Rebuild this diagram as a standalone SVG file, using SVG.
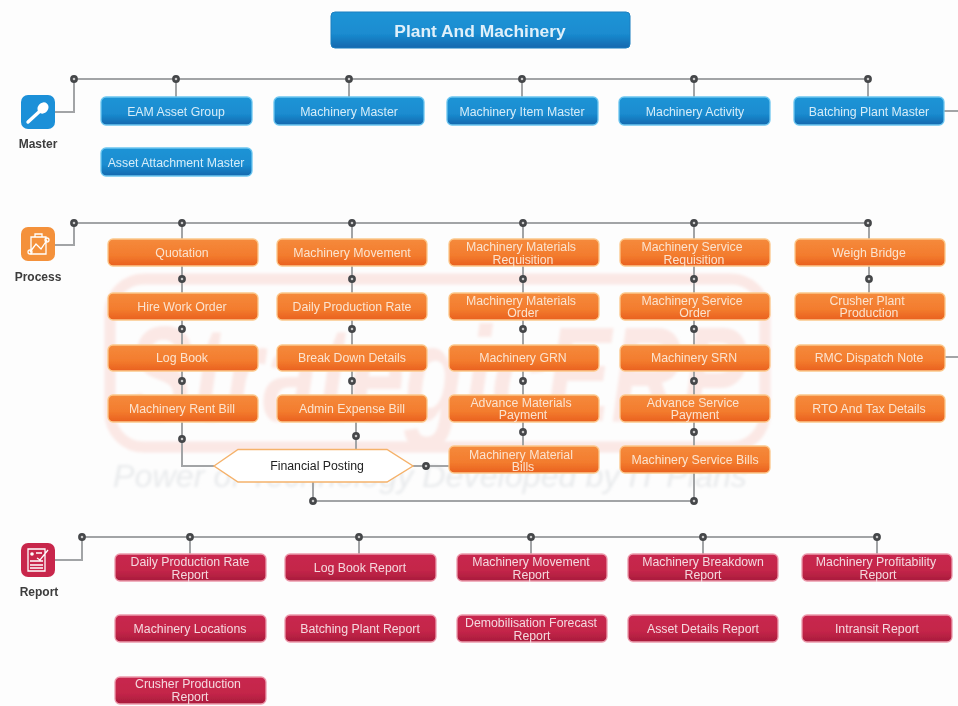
<svg xmlns="http://www.w3.org/2000/svg" width="958" height="706" viewBox="0 0 958 706">
<style>
.b{stroke-width:1.3}
.blue{fill:url(#gb);stroke:#6cc6f0}
.or{fill:url(#go);stroke:#fcc78a}
.red{fill:url(#gr);stroke:#ec9aac}
.t{font:12.3px "Liberation Sans",Arial,sans-serif;fill:#fbe3cf;text-anchor:middle}
.tb{fill:#d6ecf8}
.tr{fill:#f4d8de}
.lab{font:bold 12px "Liberation Sans",Arial,sans-serif;fill:#3c3c3c;text-anchor:middle}
.c{fill:none;stroke:#a2a4a6;stroke-width:2}
.d{fill:#c8c8c8;stroke:#45474a;stroke-width:2.6}
.ic{fill:none;stroke:#fff;stroke-width:1.3}
</style>
<defs>
<linearGradient id="gb" x1="0" y1="0" x2="0" y2="1"><stop offset="0" stop-color="#1c94d6"/><stop offset=".6" stop-color="#1a8cd0"/><stop offset="1" stop-color="#1268ae"/></linearGradient>
<linearGradient id="go" x1="0" y1="0" x2="0" y2="1"><stop offset="0" stop-color="#f58a3c"/><stop offset=".6" stop-color="#f37c2e"/><stop offset="1" stop-color="#e9601f"/></linearGradient>
<linearGradient id="gr" x1="0" y1="0" x2="0" y2="1"><stop offset="0" stop-color="#c8284f"/><stop offset=".6" stop-color="#c42549"/><stop offset="1" stop-color="#a81c3c"/></linearGradient>
<filter id="s" x="-2%" y="-2%" width="104%" height="104%"><feGaussianBlur stdDeviation="0.6"/></filter>
<filter id="w" x="-5%" y="-5%" width="110%" height="110%"><feGaussianBlur stdDeviation="1.4"/></filter>
</defs>
<rect width="958" height="706" fill="#fdfdfd"/>
<g id="watermark" filter="url(#w)">
<rect x="110" y="279" width="655" height="168" rx="34" fill="none" stroke="#fbe8e5" stroke-width="11"/>
<text x="437" y="421" text-anchor="middle" font-family="'Liberation Sans',Arial,sans-serif" font-weight="bold" font-style="italic" font-size="136" textLength="620" lengthAdjust="spacingAndGlyphs" fill="#fbe8e5">StrategicERP</text>
<text x="430" y="487" text-anchor="middle" font-family="'Liberation Sans',Arial,sans-serif" font-style="italic" font-size="31" textLength="634" lengthAdjust="spacingAndGlyphs" fill="#e8eaec">Power of Technology Developed by IT Plans</text>
</g>
<g filter="url(#s)">
<g id="connectors">
<path class="c" d="M55 112H74V79H868M176 79V97M349 79V97M522 79V97M694 79V97M868 79V97M944 111H958"/>
<path class="c" d="M55 245H74V223H868M182 223V395M352 223V395M523 223V446M694 223V446M869 223V293M945 357H958"/>
<path class="c" d="M182 422V466H214M356 422V449M413 466H449M313 482V501H694M694 473V501"/>
<path class="c" d="M55 560H82V537H877M190 537V554M359 537V554M531 537V554M703 537V554M877 537V554"/>
</g>
<g id="title"><rect x="331" y="12" width="299" height="36" rx="4" fill="url(#gb)" stroke="#1a7fc0"/><text x="480" y="37" text-anchor="middle" font-family="'Liberation Sans',Arial,sans-serif" font-weight="bold" font-size="17.400" fill="#e0f0fa">Plant And Machinery</text></g>

<g id="master">
<rect x="21" y="95" width="34" height="34" rx="7" fill="#1c90d8"/>
<ellipse cx="43" cy="108" rx="5.200" ry="6" transform="rotate(40 43 108)" fill="#fff"/><path d="M40 111L28 122" stroke="#fff" stroke-width="3.400" fill="none" stroke-linecap="round"/>
<text class="lab" x="38" y="148">Master</text></g>
<g id="process">
<rect x="21" y="227" width="34" height="34" rx="7" fill="#f4913a"/>
<path class="ic" d="M31 237H46V254H31ZM35 237V234H42V237M30 252L36 244L41 249L47 240"/>
<circle cx="30" cy="252" r="2" class="ic"/><circle cx="47" cy="240" r="2" class="ic"/>
<text class="lab" x="38" y="281">Process</text></g>
<g id="report">
<rect x="21" y="543" width="34" height="34" rx="7" fill="#c8284c"/>
<path class="ic" d="M28 549H45V571H28ZM30 561H43M30 565H43M30 568H43M36 553H42M37 558L40 560L48 550"/>
<circle cx="32" cy="554" r="1.800" fill="#fff"/>
<text class="lab" x="39" y="596">Report</text></g>

<g id="eam-asset-group"><rect class="b blue" x="101" y="97" width="151" height="28" rx="5"/><text class="t tb" x="176" y="115.500">EAM Asset Group</text></g>
<g id="machinery-master"><rect class="b blue" x="274" y="97" width="150" height="28" rx="5"/><text class="t tb" x="349" y="115.500">Machinery Master</text></g>
<g id="machinery-item-master"><rect class="b blue" x="447" y="97" width="151" height="28" rx="5"/><text class="t tb" x="522" y="115.500">Machinery Item Master</text></g>
<g id="machinery-activity"><rect class="b blue" x="619" y="97" width="151" height="28" rx="5"/><text class="t tb" x="695" y="115.500">Machinery Activity</text></g>
<g id="batching-plant-master"><rect class="b blue" x="794" y="97" width="150" height="28" rx="5"/><text class="t tb" x="869" y="115.500">Batching Plant Master</text></g>
<g id="asset-attachment-master"><rect class="b blue" x="101" y="148" width="151" height="28" rx="5"/><text class="t tb" x="176" y="166.500">Asset Attachment Master</text></g>

<g id="quotation"><rect class="b or" x="108" y="239" width="150" height="27" rx="5"/><text class="t" x="182" y="257">Quotation</text></g>
<g id="hire-work-order"><rect class="b or" x="108" y="293" width="150" height="27" rx="5"/><text class="t" x="182" y="311">Hire Work Order</text></g>
<g id="log-book"><rect class="b or" x="108" y="345" width="150" height="26" rx="5"/><text class="t" x="182" y="362">Log Book</text></g>
<g id="machinery-rent-bill"><rect class="b or" x="108" y="395" width="150" height="27" rx="5"/><text class="t" x="182" y="413">Machinery Rent Bill</text></g>
<g id="machinery-movement"><rect class="b or" x="277" y="239" width="150" height="27" rx="5"/><text class="t" x="352" y="257">Machinery Movement</text></g>
<g id="daily-production-rate"><rect class="b or" x="277" y="293" width="150" height="27" rx="5"/><text class="t" x="352" y="311">Daily Production Rate</text></g>
<g id="break-down-details"><rect class="b or" x="277" y="345" width="150" height="26" rx="5"/><text class="t" x="352" y="362">Break Down Details</text></g>
<g id="admin-expense-bill"><rect class="b or" x="277" y="395" width="150" height="27" rx="5"/><text class="t" x="352" y="413">Admin Expense Bill</text></g>
<g id="mm-requisition"><rect class="b or" x="449" y="239" width="150" height="27" rx="5"/><text class="t" x="521" y="251">Machinery Materials</text><text class="t" x="523" y="263.500">Requisition</text></g>
<g id="mm-order"><rect class="b or" x="449" y="293" width="150" height="27" rx="5"/><text class="t" x="521" y="304.500">Machinery Materials</text><text class="t" x="523" y="317">Order</text></g>
<g id="machinery-grn"><rect class="b or" x="449" y="345" width="150" height="26" rx="5"/><text class="t" x="523" y="362">Machinery GRN</text></g>
<g id="advance-materials-payment"><rect class="b or" x="449" y="395" width="150" height="27" rx="5"/><text class="t" x="521" y="406.500">Advance Materials</text><text class="t" x="523" y="419">Payment</text></g>
<g id="machinery-material-bills"><rect class="b or" x="449" y="446" width="150" height="27" rx="5"/><text class="t" x="521" y="458.500">Machinery Material</text><text class="t" x="523" y="471">Bills</text></g>
<g id="ms-requisition"><rect class="b or" x="620" y="239" width="150" height="27" rx="5"/><text class="t" x="692" y="251">Machinery Service</text><text class="t" x="694" y="263.500">Requisition</text></g>
<g id="ms-order"><rect class="b or" x="620" y="293" width="150" height="27" rx="5"/><text class="t" x="692" y="304.500">Machinery Service</text><text class="t" x="695" y="317">Order</text></g>
<g id="machinery-srn"><rect class="b or" x="620" y="345" width="150" height="26" rx="5"/><text class="t" x="694" y="362">Machinery SRN</text></g>
<g id="advance-service-payment"><rect class="b or" x="620" y="395" width="150" height="27" rx="5"/><text class="t" x="693" y="406.500">Advance Service</text><text class="t" x="695" y="419">Payment</text></g>
<g id="machinery-service-bills"><rect class="b or" x="620" y="446" width="150" height="27" rx="5"/><text class="t" x="695" y="464">Machinery Service Bills</text></g>
<g id="weigh-bridge"><rect class="b or" x="795" y="239" width="150" height="27" rx="5"/><text class="t" x="869" y="257">Weigh Bridge</text></g>
<g id="crusher-plant-production"><rect class="b or" x="795" y="293" width="150" height="27" rx="5"/><text class="t" x="867" y="304.500">Crusher Plant</text><text class="t" x="869" y="317">Production</text></g>
<g id="rmc-dispatch-note"><rect class="b or" x="795" y="345" width="150" height="26" rx="5"/><text class="t" x="869" y="362">RMC Dispatch Note</text></g>
<g id="rto-and-tax-details"><rect class="b or" x="795" y="395" width="150" height="27" rx="5"/><text class="t" x="869" y="413">RTO And Tax Details</text></g>

<g id="financial-posting"><polygon points="214,466 238,449.500 387,449.500 413,466 387,482 238,482" fill="#fff" stroke="#f5b26b" stroke-width="1.400"/><text x="317" y="470" text-anchor="middle" font-family="'Liberation Sans',Arial,sans-serif" font-size="12.300" fill="#222">Financial Posting</text></g>

<g id="daily-production-rate-report"><rect class="b red" x="115" y="554" width="151" height="27" rx="5"/><text class="t tr" x="190" y="566">Daily Production Rate</text><text class="t tr" x="190" y="578.500">Report</text></g>
<g id="log-book-report"><rect class="b red" x="285" y="554" width="151" height="27" rx="5"/><text class="t tr" x="360" y="572">Log Book Report</text></g>
<g id="machinery-movement-report"><rect class="b red" x="457" y="554" width="150" height="27" rx="5"/><text class="t tr" x="531" y="566">Machinery Movement</text><text class="t tr" x="531" y="578.500">Report</text></g>
<g id="machinery-breakdown-report"><rect class="b red" x="628" y="554" width="150" height="27" rx="5"/><text class="t tr" x="703" y="566">Machinery Breakdown</text><text class="t tr" x="703" y="578.500">Report</text></g>
<g id="machinery-profitability-report"><rect class="b red" x="802" y="554" width="150" height="27" rx="5"/><text class="t tr" x="876" y="566">Machinery Profitability</text><text class="t tr" x="878" y="578.500">Report</text></g>
<g id="machinery-locations"><rect class="b red" x="115" y="615" width="151" height="27" rx="5"/><text class="t tr" x="190" y="633">Machinery Locations</text></g>
<g id="batching-plant-report"><rect class="b red" x="285" y="615" width="151" height="27" rx="5"/><text class="t tr" x="360" y="633">Batching Plant Report</text></g>
<g id="demobilisation-forecast-report"><rect class="b red" x="457" y="615" width="150" height="27" rx="5"/><text class="t tr" x="531" y="627">Demobilisation Forecast</text><text class="t tr" x="532" y="640">Report</text></g>
<g id="asset-details-report"><rect class="b red" x="628" y="615" width="150" height="27" rx="5"/><text class="t tr" x="703" y="633">Asset Details Report</text></g>
<g id="intransit-report"><rect class="b red" x="802" y="615" width="150" height="27" rx="5"/><text class="t tr" x="877" y="633">Intransit Report</text></g>
<g id="crusher-production-report"><rect class="b red" x="115" y="677" width="151" height="27" rx="5"/><text class="t tr" x="188" y="688">Crusher Production</text><text class="t tr" x="190" y="700.500">Report</text></g>

<g id="junctions">
<circle class="d" cx="74" cy="79" r="2.600"/><circle class="d" cx="176" cy="79" r="2.600"/><circle class="d" cx="349" cy="79" r="2.600"/><circle class="d" cx="522" cy="79" r="2.600"/><circle class="d" cx="694" cy="79" r="2.600"/><circle class="d" cx="868" cy="79" r="2.600"/>
<circle class="d" cx="74" cy="223" r="2.600"/><circle class="d" cx="182" cy="223" r="2.600"/><circle class="d" cx="352" cy="223" r="2.600"/><circle class="d" cx="523" cy="223" r="2.600"/><circle class="d" cx="694" cy="223" r="2.600"/><circle class="d" cx="868" cy="223" r="2.600"/>
<circle class="d" cx="182" cy="279" r="2.600"/><circle class="d" cx="182" cy="329" r="2.600"/><circle class="d" cx="182" cy="381" r="2.600"/><circle class="d" cx="182" cy="439" r="2.600"/>
<circle class="d" cx="352" cy="279" r="2.600"/><circle class="d" cx="352" cy="329" r="2.600"/><circle class="d" cx="352" cy="381" r="2.600"/><circle class="d" cx="356" cy="436" r="2.600"/>
<circle class="d" cx="523" cy="279" r="2.600"/><circle class="d" cx="523" cy="329" r="2.600"/><circle class="d" cx="523" cy="381" r="2.600"/><circle class="d" cx="523" cy="432" r="2.600"/>
<circle class="d" cx="694" cy="279" r="2.600"/><circle class="d" cx="694" cy="329" r="2.600"/><circle class="d" cx="694" cy="381" r="2.600"/><circle class="d" cx="694" cy="432" r="2.600"/>
<circle class="d" cx="869" cy="279" r="2.600"/>
<circle class="d" cx="426" cy="466" r="2.600"/><circle class="d" cx="313" cy="501" r="2.600"/><circle class="d" cx="694" cy="501" r="2.600"/>
<circle class="d" cx="82" cy="537" r="2.600"/><circle class="d" cx="190" cy="537" r="2.600"/><circle class="d" cx="359" cy="537" r="2.600"/><circle class="d" cx="531" cy="537" r="2.600"/><circle class="d" cx="703" cy="537" r="2.600"/><circle class="d" cx="877" cy="537" r="2.600"/>
</g>
</g>
</svg>
